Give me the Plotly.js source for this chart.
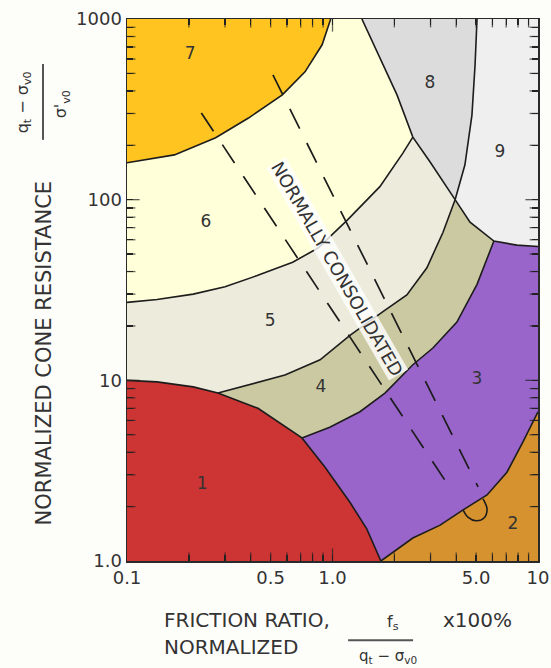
<!DOCTYPE html>
<html>
<head>
<meta charset="utf-8">
<script src="https://cdn.plot.ly/plotly-3.0.1.min.js"></script>
<style>html,body{margin:0;padding:0;background:#fdfdfa;}#chart{width:551px;height:668px;}</style>
</head>
<body>
<div id="chart"></div>
<script>
// ---- Boundary curves (friction ratio %, normalized cone resistance) ----
const b7x  = [0.1, 0.17, 0.27, 0.39, 0.57, 0.735, 0.89, 0.98];
const b7y  = [160, 177, 220, 283, 380, 510, 720, 1000];
const b8Lx = [1.39, 1.70, 2.06, 2.46, 2.98, 3.95];
const b8Ly = [1000, 608, 380, 222, 162, 100];
const b89x = [5.05, 4.94, 4.77, 4.41, 3.95];
const b89y = [1000, 556, 294, 156, 100];
const b9x  = [3.95, 4.67, 6.1, 7.9, 10];
const b9y  = [100, 75, 59, 56, 55];
const b65x = [0.1, 0.14, 0.21, 0.30, 0.43, 0.64, 0.85, 1.18, 1.7, 2.2, 2.46];
const b65y = [27, 28, 30, 33, 38, 45, 54, 77, 118, 181, 222];
const b54x = [0.277, 0.434, 0.587, 0.87, 1.22, 1.76, 2.3, 2.88, 3.45, 3.95];
const b54y = [8.5, 9.8, 10.7, 13, 17.8, 24, 29.7, 42, 66, 100];
const b43x = [0.71, 0.97, 1.36, 1.8, 2.46, 3.08, 4.03, 5.05, 6.1];
const b43y = [4.8, 5.5, 6.7, 8.5, 12.2, 15.1, 21, 34, 59];
const b1x  = [0.1, 0.14, 0.21, 0.277, 0.434, 0.57, 0.71, 0.92, 1.22, 1.47, 1.72];
const b1y  = [10, 9.8, 9.2, 8.5, 7.0, 5.7, 4.8, 3.3, 2.1, 1.5, 1.0];
const b32x = [1.72, 2.46, 3.34, 4.32, 5.65, 7.06, 8.45, 10];
const b32y = [1.0, 1.34, 1.58, 1.92, 2.32, 3.1, 4.56, 6.7];
const loopX = [4.32, 4.56, 4.99, 5.46, 5.65, 5.40];
const loopY = [1.92, 1.75, 1.67, 1.73, 1.94, 2.21];
// normally consolidated band (dashed)
const ncAx = [0.23, 3.73];
const ncAy = [302, 2.54];
const ncBx = [0.513, 5.11];
const ncBy = [490, 2.57];
// zone labels
const zoneText = ['1','2','3','4','5','6','7','8','9'];
const zoneX = [0.232, 7.55, 5.05, 0.879, 0.497, 0.242, 0.203, 2.98, 6.53];
const zoneY = [2.64, 1.585, 10.05, 9.08, 21.0, 74.3, 632, 437, 181];
// ticks
const xTickVals = [0.1,0.2,0.3,0.4,0.5,0.6,0.7,0.8,0.9,1,2,3,4,5,6,7,8,9,10];
const xTickText = ['0.1','','','','0.5','','','','','1.0','','','','5.0','','','','','10'];
const yTickVals = [1,2,3,4,5,6,7,8,9,10,20,30,40,50,60,70,80,90,100,200,300,400,500,600,700,800,900,1000];
const yTickText = ['1.0','','','','','','','','','10','','','','','','','','','100','','','','','','','','','1000'];

const colors = {
  z1:'#cd3434', z2:'#d5922f', z3:'#9a65cb', z4:'#cbc9a1', z5:'#ecebdc',
  z6:'#ffffd9', z7:'#ffc41f', z8:'#dcdcdc', z9:'#efefef'
};

const rev = a => a.slice().reverse();
const sl = (a,i,j) => a.slice(i, j+1);
const cat = (...arrs) => [].concat(...arrs);

function fillTrace(x, y, c){
  return {x:x, y:y, type:'scatter', mode:'lines', fill:'toself', fillcolor:c,
          line:{width:0, color:c}, hoverinfo:'skip'};
}
function lineTrace(x, y, extra){
  return Object.assign({x:x, y:y, type:'scatter', mode:'lines',
          line:{width:1.6, color:'#1c1c1c'}, hoverinfo:'skip'}, extra||{});
}

// inside tick marks, drawn as line markers sitting on the frame (clipped to the plot area)
const isDecade = v => Math.abs(Math.log10(v) - Math.round(Math.log10(v))) < 1e-9;
const xIn = xTickVals.filter(v => v > 0.1 && v < 10);
const yIn = yTickVals.filter(v => v > 1 && v < 1000);
const xSz = xIn.map(v => isDecade(v) ? 18 : 12);
const ySz = yIn.map(v => isDecade(v) ? 18 : 12);
function tickTrace(x, y, sym, sz){
  return {x:x, y:y, type:'scatter', mode:'markers', hoverinfo:'skip', cliponaxis:true,
          marker:{symbol:sym, size:sz, color:'#222', line:{width:1.3, color:'#222'}}};
}

const traces = [
  fillTrace(cat([0.1], b7x), cat([1000], b7y), colors.z7),
  fillTrace(cat(b7x, sl(b8Lx,0,3), rev(b65x)), cat(b7y, sl(b8Ly,0,3), rev(b65y)), colors.z6),
  fillTrace(cat(b65x, sl(b8Lx,3,5), rev(b54x), rev(sl(b1x,0,3))), cat(b65y, sl(b8Ly,3,5), rev(b54y), rev(sl(b1y,0,3))), colors.z5),
  fillTrace(cat(b54x, sl(b9x,0,2), rev(b43x), rev(sl(b1x,3,6))), cat(b54y, sl(b9y,0,2), rev(b43y), rev(sl(b1y,3,6))), colors.z4),
  fillTrace(cat(b43x, sl(b9x,2,4), rev(b32x), rev(sl(b1x,6,10))), cat(b43y, sl(b9y,2,4), rev(b32y), rev(sl(b1y,6,10))), colors.z3),
  fillTrace(cat(b32x, [10]), cat(b32y, [1]), colors.z2),
  fillTrace(cat(b1x, [0.1]), cat(b1y, [1]), colors.z1),
  fillTrace(cat(b8Lx, rev(b89x)), cat(b8Ly, rev(b89y)), colors.z8),
  fillTrace(cat(b89x, sl(b9x,1,4), [10]), cat(b89y, sl(b9y,1,4), [1000]), colors.z9),
  lineTrace(b7x, b7y), lineTrace(b8Lx, b8Ly), lineTrace(b89x, b89y), lineTrace(b9x, b9y),
  lineTrace(b65x, b65y), lineTrace(b54x, b54y), lineTrace(b43x, b43y),
  lineTrace(b1x, b1y), lineTrace(b32x, b32y), lineTrace(loopX, loopY, {line:{width:1.6,color:'#1c1c1c',shape:'spline'}}),
  lineTrace(ncAx, ncAy, {line:{width:1.7, color:'#1c1c1c', dash:'22px,16px'}}),
  lineTrace(ncBx, ncBy, {line:{width:1.7, color:'#1c1c1c', dash:'22px,16px'}}),
  tickTrace(xIn, xIn.map(() => 1), 'line-ns', xSz),
  tickTrace(xIn, xIn.map(() => 1000), 'line-ns', xSz),
  tickTrace(yIn.map(() => 0.1), yIn, 'line-ew', ySz),
  tickTrace(yIn.map(() => 10), yIn, 'line-ew', ySz),
  {x:zoneX, y:zoneY, text:zoneText, type:'scatter', mode:'text', hoverinfo:'skip',
   textfont:{family:'DejaVu Sans', size:17, color:'#333'}}
];

const FONT = 'DejaVu Sans';
const axisCommon = {
  type:'log', showgrid:false, zeroline:false, showline:true, linecolor:'#2a2a2a', linewidth:1.5,
  mirror:'allticks', ticks:'inside', ticklen:6, tickwidth:1.3, tickcolor:'#222',
  tickfont:{family:FONT, size:18, color:'#333'}
};

function ann(x, y, text, size, extra){
  return Object.assign({xref:'paper', yref:'paper', x:x, y:y, text:text, showarrow:false,
    xanchor:'center', yanchor:'middle', font:{family:FONT, size:size, color:'#333'}}, extra||{});
}

const layout = {
  width:551, height:668,
  margin:{l:127, r:13, t:19, b:107},
  paper_bgcolor:'#fdfdfa', plot_bgcolor:'#ffffff',
  showlegend:false,
  xaxis:Object.assign({}, axisCommon, {range:[-1,1], tickmode:'array', tickvals:xTickVals, ticktext:xTickText}),
  yaxis:Object.assign({}, axisCommon, {range:[0,3], tickmode:'array', tickvals:yTickVals, ticktext:yTickText}),
  annotations:[
    {xref:'x', yref:'y', x:Math.log10(1.05), y:Math.log10(41.4), text:'NORMALLY CONSOLIDATED', showarrow:false,
     xanchor:'center', yanchor:'middle',
     textangle:60, font:{family:FONT, size:18, color:'#333'}, bgcolor:'rgba(255,255,255,0.8)', borderpad:0},
    ann(-0.202, 0.383, 'NORMALIZED CONE RESISTANCE', 21, {textangle:-90}),
    ann(-0.252, 0.847, 'q<sub>t</sub> − σ<sub>v0</sub>', 16, {textangle:-90}),
    ann(-0.160, 0.843, 'σ\'<sub>v0</sub>', 16, {textangle:-90}),
    ann(0.085, -0.109, 'FRICTION RATIO,', 20, {xanchor:'left'}),
    ann(0.085, -0.159, 'NORMALIZED', 20, {xanchor:'left'}),
    ann(0.647, -0.114, 'f<sub>s</sub>', 16),
    ann(0.635, -0.177, 'q<sub>t</sub> − σ<sub>v0</sub>', 15),
    ann(0.854, -0.109, 'x100%', 20)
  ],
  shapes:[
    {type:'line', xref:'paper', yref:'paper', x0:-0.2044, x1:-0.2044, y0:0.777, y1:0.917, line:{color:'#555', width:2}},
    {type:'line', xref:'paper', yref:'paper', x0:0.538, x1:0.696, y0:-0.146, y1:-0.146, line:{color:'#555', width:2}}
  ]
};

Plotly.newPlot('chart', traces, layout, {displayModeBar:false, staticPlot:true});
</script>
</body>
</html>
